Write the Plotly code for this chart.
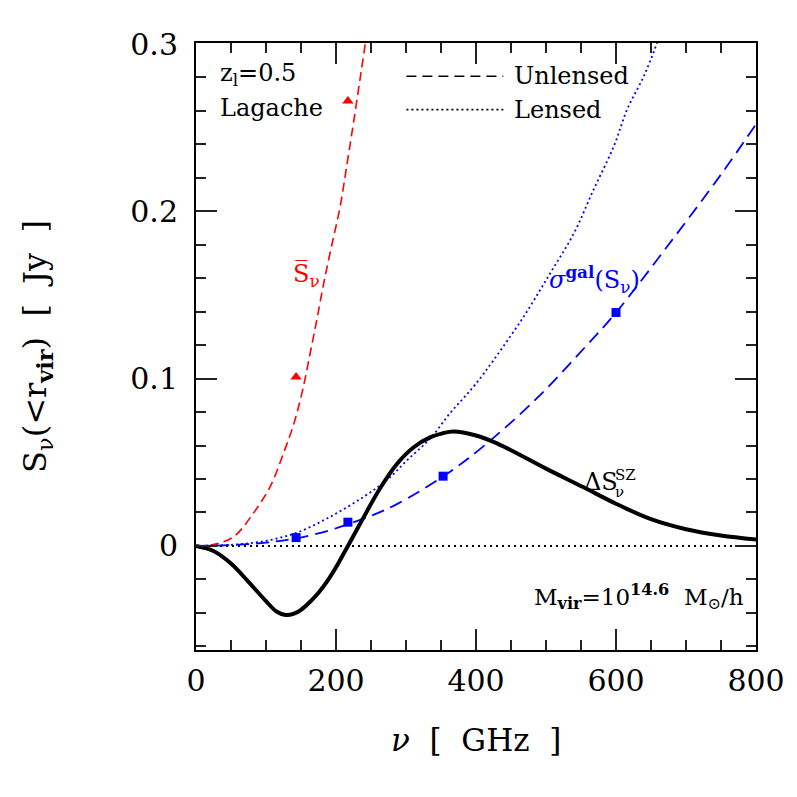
import plotly.graph_objects as go

# ---- data ----
nu_sz = [0, 25, 50, 75, 100, 115, 128, 140, 150, 165, 175, 190, 200, 217, 240, 263, 287,
         311, 335, 352, 368, 400, 425, 450, 500, 553, 600, 650, 700, 750, 800]
s_sz = [0, -0.003, -0.0105, -0.0215, -0.0330, -0.0392, -0.0413, -0.0405, -0.0382,
        -0.0325, -0.0280, -0.0195, -0.0128, 0.0, 0.0175, 0.0345, 0.0490, 0.0590, 0.0650,
        0.0673, 0.0684, 0.0660, 0.0622, 0.0572, 0.0462, 0.0352, 0.0252, 0.0160, 0.0100,
        0.0062, 0.0038]

nu_mean = [0, 25, 54, 82, 106, 125, 140, 152, 163, 173, 182, 193, 206, 216, 225, 235, 242]
s_mean = [0, 0.0008, 0.0056, 0.0196, 0.0355, 0.0554, 0.0734, 0.0925, 0.115, 0.136, 0.156,
          0.178, 0.203, 0.229, 0.253, 0.281, 0.3006]

nu_sig_u = [0, 50, 100, 143, 192, 217, 250, 287, 353, 413, 487, 554, 600, 675, 750, 800]
s_sig_u = [0, 0.0005, 0.002, 0.0045, 0.0095, 0.013, 0.018, 0.025, 0.0415, 0.0604, 0.0883,
           0.118, 0.1395, 0.180, 0.222, 0.252]

nu_sig_l = [0, 47, 94, 142, 192, 240, 273, 302, 335, 363, 382, 399, 425, 468, 506, 540,
            568, 597, 616, 640, 659]
s_sig_l = [0, 0.0006, 0.0026, 0.0076, 0.0175, 0.0295, 0.0395, 0.0514, 0.0644, 0.0794,
           0.0883, 0.0965, 0.111, 0.137, 0.163, 0.187, 0.213, 0.239, 0.261, 0.281, 0.301]

nu_obs_tri = [143, 217]
s_obs_tri = [0.101, 0.266]
nu_obs_sq = [143, 217, 353, 600]
s_obs_sq = [0.005, 0.0142, 0.0417, 0.1395]

zero_x = [0, 800]
zero_y = [0, 0]

x_ticks = [0, 200, 400, 600, 800]
y_ticks = [0, 0.1, 0.2, 0.3]
y_ticklabels = ["0", "0.1", "0.2", "0.3"]

FONT = "DejaVu Serif"
RED = "#ff0000"
BLUE = "#0000ff"

fig = go.Figure()
fig.add_trace(go.Scatter(x=zero_x, y=zero_y, mode="lines",
                         line=dict(color="black", width=2, dash="2px,4px")))
fig.add_trace(go.Scatter(x=nu_mean, y=s_mean, mode="lines", line_shape="spline",
                         line=dict(color=RED, width=1.6, dash="9px,5px")))
fig.add_trace(go.Scatter(x=nu_sig_u, y=s_sig_u, mode="lines", line_shape="spline",
                         line=dict(color=BLUE, width=1.8, dash="13px,7px")))
fig.add_trace(go.Scatter(x=nu_sig_l, y=s_sig_l, mode="lines", line_shape="spline",
                         line=dict(color=BLUE, width=1.8, dash="2px,3px")))
fig.add_trace(go.Scatter(x=nu_sz, y=s_sz, mode="lines", line_shape="spline",
                         line=dict(color="black", width=4, smoothing=1)))
fig.add_trace(go.Scatter(x=nu_obs_tri, y=s_obs_tri, mode="markers",
                         marker=dict(symbol="triangle-up", size=10, color=RED)))
fig.add_trace(go.Scatter(x=nu_obs_sq, y=s_obs_sq, mode="markers",
                         marker=dict(symbol="square", size=9, color=BLUE)))

axis_common = dict(showline=True, linewidth=2, linecolor="black", mirror="allticks",
                   ticks="inside", ticklen=21, tickwidth=1.6, tickcolor="#222",
                   showgrid=False, zeroline=False,
                   tickfont=dict(family=FONT, size=30, color="black"))

fig.update_xaxes(range=[0, 800], tickvals=x_ticks, ticklabelstandoff=3,
                 minor=dict(dtick=50, tick0=0, ticklen=10, tickwidth=1.6,
                            ticks="inside", tickcolor="#222"),
                 **axis_common)
fig.update_yaxes(range=[-0.0622, 0.3006], tickvals=y_ticks, ticktext=y_ticklabels,
                 ticklabelstandoff=10,
                 minor=dict(dtick=0.02, tick0=0, ticklen=10, tickwidth=1.6,
                            ticks="inside", tickcolor="#222"),
                 **axis_common)

ann = []
def txt(x, y, t, size=24, color="black", xanchor="left", xref="x", yref="y", angle=0):
    ann.append(dict(x=x, y=y, xref=xref, yref=yref, text=t, showarrow=False,
                    xanchor=xanchor, yanchor="middle", textangle=angle,
                    font=dict(family=FONT, size=size, color=color)))

txt(32, 0.2817, "z<sub>l</sub>=0.5")
txt(32, 0.262, "Lagache")
txt(451.6, 0.2807, "Unlensed")
txt(451.6, 0.2608, "Lensed")
txt(136, 0.1615, "S\u0305<sub>ν</sub>", color=RED)
txt(501.6, 0.159, "<i>σ</i><sup><b>gal</b></sup>(S<sub>ν</sub>)", color=BLUE)
txt(551.6, 0.0383, "ΔS")
txt(595.9, 0.0422, "SZ", size=15)
txt(595.9, 0.0322, "ν", size=15)
txt(480, -0.0305, "M<sub><b>vir</b></sub>=10<sup><b>14.6</b></sup>  M<sub>⊙</sub>/h", size=23)
txt(0.5, -0.148, "<i>ν</i>  [  GHz  ]", size=31, xanchor="center", xref="paper", yref="paper")
txt(-0.285, 0.5, "S<sub>ν</sub>(&lt;r<sub><b>vir</b></sub>)  [  Jy  ]", size=32,
    xanchor="center", xref="paper", yref="paper", angle=-90)

shapes = [
    dict(type="line", xref="x", yref="y", x0=300.6, x1=439, y0=0.2807, y1=0.2807,
         line=dict(color="black", width=1.6, dash="10px,6px")),
    dict(type="line", xref="x", yref="y", x0=300.6, x1=439, y0=0.2608, y1=0.2608,
         line=dict(color="black", width=1.6, dash="2px,3px")),
]

# page body has an 8px margin, so the figure is 789px and shifted accordingly
fig.update_layout(width=789, height=789, showlegend=False,
                  margin=dict(l=187.6, r=41.4, t=35.3, b=147, autoexpand=False),
                  plot_bgcolor="white", paper_bgcolor="white",
                  annotations=ann, shapes=shapes)

fig.write_html("out.html")
